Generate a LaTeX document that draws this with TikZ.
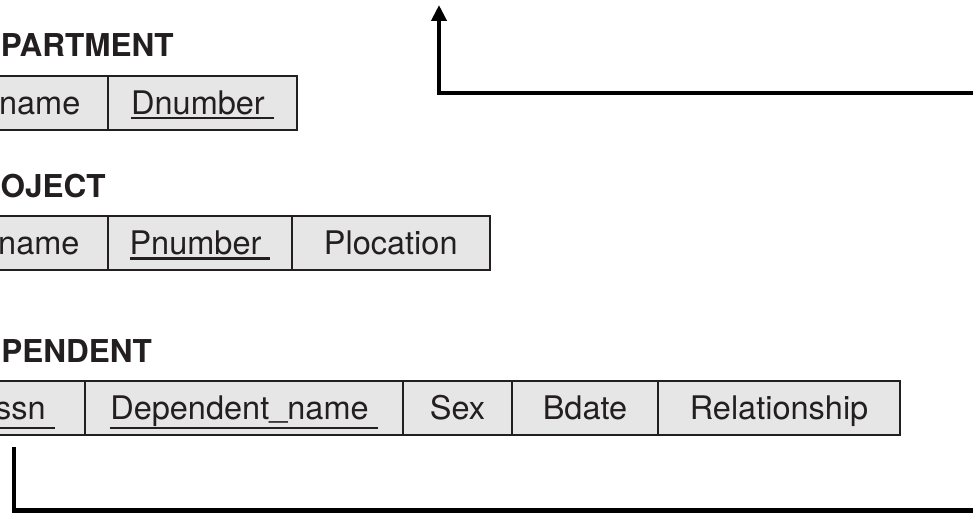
\documentclass[tikz,border=0pt]{standalone}
\usepackage{fontspec}
\setmainfont{TeX Gyre Heros}
\usetikzlibrary{arrows.meta}
\definecolor{ink}{HTML}{231F20}
\definecolor{cellfill}{HTML}{E6E6E6}
% primary-key attribute: underlined, with the rule running one space past the name;
% the optional argument is how far below the baseline the rule's top lies
\newcommand{\pkey}[2][2.4pt]{\setbox0=\hbox{#2\ }%
  \rlap{\rule[\dimexpr-#1-2.4pt\relax]{\wd0}{2.4pt}}\box0}
% underscore sitting on the baseline
\newcommand{\usc}{\raisebox{2.6pt}{\char"5F}}
\tikzset{
  cell/.style={draw=ink, line width=2pt, fill=cellfill, text=ink,
    minimum height=54pt, text height=23.3pt, text depth=0pt, inner sep=0pt,
    font=\fontsize{32.5}{38}\selectfont},
  reltitle/.style={anchor=base west, inner sep=0pt, text=ink,
    font=\fontsize{31.5}{38}\selectfont\bfseries},
  fk/.style={line width=4.5pt, black, line join=miter},
}
\begin{document}
\begin{tikzpicture}[x=1pt, y=-1pt]
  \useasboundingbox (0,0) rectangle (973,513);
  \clip (0,0) rectangle (973,513);

  % DEPARTMENT
  \node[reltitle] (tdept) at (-43.2,57) {DEPARTMENT};
  \node[cell, minimum width=160pt] (dname)   at (28,103)    {Dname};
  \node[cell, minimum width=189pt] (dnumber) at (202.5,103) {\pkey{Dnumber}};

  % PROJECT
  \node[reltitle] (tproj) at (-43.2,197) {PROJECT};
  \node[cell, minimum width=160pt]   (pname)     at (28,243.3)     {Pname};
  \node[cell, minimum width=184pt]   (pnumber)   at (200,243.3)    {\pkey{Pnumber}};
  \node[cell, minimum width=197.5pt] (plocation) at (390.75,243.3) {Plocation};

  % DEPENDENT
  \node[reltitle] (tdep) at (-42.6,362) {DEPENDENT};
  \node[cell, minimum width=142pt] (essn)    at (14,408.2)    {\pkey[7pt]{Essn}};
  \node[cell, minimum width=318pt] (depname) at (244,408.2)   {\pkey[7pt]{Dependent\usc name}};
  \node[cell, minimum width=109pt] (sex)     at (457.5,408.2) {Sex};
  \node[cell, minimum width=146pt] (bdate)   at (585,408.2)   {Bdate};
  \node[cell, minimum width=242pt] (rel)     at (779,408.2)   {Relationship};

  % referential-integrity connectors
  \coordinate (uptarget) at (439,5);
  \coordinate (topsrc)   at (1000,93);
  \coordinate (essnend)  at (1000,510.7);
  \draw[fk, -{Triangle[length=16pt,width=15pt]}] (topsrc) -| (uptarget);
  \draw[fk] ([yshift=-11.2pt]essn.south) |- (essnend);
\end{tikzpicture}
\end{document}
